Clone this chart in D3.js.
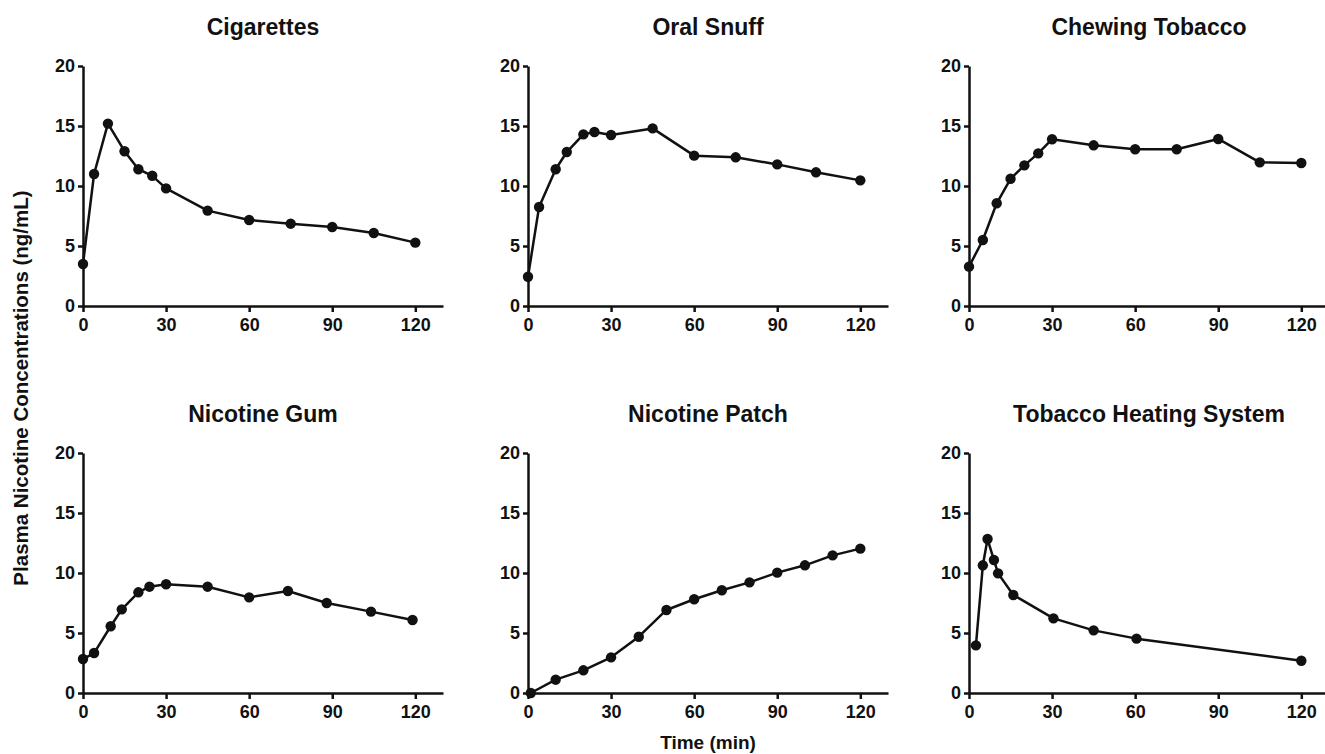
<!DOCTYPE html>
<html>
<head>
<meta charset="utf-8">
<script src="https://cdn.jsdelivr.net/npm/d3@7"></script>
<style>
  body { margin: 0; background: #fff; }
  svg { font-family: "Liberation Sans", Arial, Helvetica, sans-serif; font-weight: bold; }
</style>
</head>
<body>
<svg id="chart" width="1325" height="754"></svg>
<script>
// data (time in min, plasma nicotine in ng/mL)
const cigTime = [0, 4, 9, 15, 20, 25, 30, 45, 60, 75, 90, 105, 120];
const cigConc = [3.5, 11.0, 15.2, 12.9, 11.4, 10.85, 9.8, 7.95, 7.17, 6.86, 6.58, 6.08, 5.28];

const snuffTime = [0, 4, 10, 14, 20, 24, 30, 45, 60, 75, 90, 104, 120];
const snuffConc = [2.44, 8.25, 11.4, 12.83, 14.3, 14.5, 14.25, 14.8, 12.53, 12.39, 11.8, 11.14, 10.47];

const chewTime = [0, 5, 10, 15, 20, 25, 30, 45, 60, 75, 90, 105, 120];
const chewConc = [3.28, 5.5, 8.56, 10.6, 11.72, 12.72, 13.9, 13.39, 13.06, 13.06, 13.92, 11.97, 11.92];

const gumTime = [0, 4, 10, 14, 20, 24, 30, 45, 60, 74, 88, 104, 119];
const gumConc = [2.83, 3.33, 5.56, 6.97, 8.39, 8.86, 9.06, 8.86, 7.97, 8.5, 7.5, 6.78, 6.08];

const patchTime = [1, 10, 20, 30, 40, 50, 60, 70, 80, 90, 100, 110, 120];
const patchConc = [0, 1.11, 1.89, 2.97, 4.69, 6.92, 7.81, 8.56, 9.22, 10.03, 10.64, 11.47, 12.03];

const thsTime = [2.5, 5, 6.7, 9, 10.5, 16, 30.5, 45, 60.5, 120];
const thsConc = [3.97, 10.64, 12.83, 11.08, 9.97, 8.17, 6.22, 5.22, 4.53, 2.69];

const titles = ["Cigarettes", "Oral Snuff", "Chewing Tobacco",
                "Nicotine Gum", "Nicotine Patch", "Tobacco Heating System"];
const xTicks = [0, 30, 60, 90, 120];
const yTicks = [0, 5, 10, 15, 20];

const panels = [
  [cigTime, cigConc], [snuffTime, snuffConc], [chewTime, chewConc],
  [gumTime, gumConc], [patchTime, patchConc], [thsTime, thsConc]
];

const svg = d3.select("#chart");

const colLeft = [83, 528, 969];
const rowBottom = [306, 693];
const plotW = 360, plotH = 240;

panels.forEach(([t, c], i) => {
  const left = colLeft[i % 3];
  const bottom = rowBottom[Math.floor(i / 3)];

  const x = d3.scaleLinear().domain([0, 130]).range([left, left + plotW]);
  const y = d3.scaleLinear().domain([0, 20]).range([bottom, bottom - plotH]);

  const g = svg.append("g");

  const xAxis = g.append("g")
    .attr("transform", `translate(0,${bottom})`)
    .call(d3.axisBottom(x).tickValues(xTicks).tickSize(6).tickPadding(6).tickSizeOuter(0));

  const yAxis = g.append("g")
    .attr("transform", `translate(${left},0)`)
    .call(d3.axisLeft(y).tickValues(yTicks).tickSize(5).tickPadding(3).tickSizeOuter(0));

  [xAxis, yAxis].forEach(a => {
    a.select(".domain").attr("stroke", "#111").attr("stroke-width", 2.5);
    a.selectAll(".tick line").attr("stroke", "#111").attr("stroke-width", 2.5);
    a.selectAll(".tick text")
      .attr("fill", "#111")
      .attr("font-size", "18px")
      .attr("font-family", "'Liberation Sans', Arial, sans-serif")
      .attr("font-weight", "bold");
  });

  const line = d3.line()
    .x((_, k) => x(t[k]))
    .y(d => y(d));

  g.append("path")
    .datum(c)
    .attr("fill", "none")
    .attr("stroke", "#111")
    .attr("stroke-width", 2.5)
    .attr("stroke-linejoin", "round")
    .attr("d", line);

  g.selectAll("circle")
    .data(c)
    .enter()
    .append("circle")
    .attr("cx", (_, k) => x(t[k]))
    .attr("cy", d => y(d))
    .attr("r", 5.2)
    .attr("fill", "#111");

  g.append("text")
    .attr("x", left + plotW / 2)
    .attr("y", bottom - plotH - 31)
    .attr("text-anchor", "middle")
    .attr("font-size", "23px")
    .attr("fill", "#111")
    .text(titles[i]);
});

// shared axis titles
svg.append("text")
  .attr("x", colLeft[1] + plotW / 2)
  .attr("y", 749)
  .attr("text-anchor", "middle")
  .attr("font-size", "19px")
  .attr("fill", "#111")
  .text("Time (min)");

svg.append("text")
  .attr("transform", "rotate(-90)")
  .attr("x", -388)
  .attr("y", 28)
  .attr("text-anchor", "middle")
  .attr("font-size", "20.5px")
  .attr("fill", "#111")
  .text("Plasma Nicotine Concentrations (ng/mL)");
</script>
</body>
</html>
